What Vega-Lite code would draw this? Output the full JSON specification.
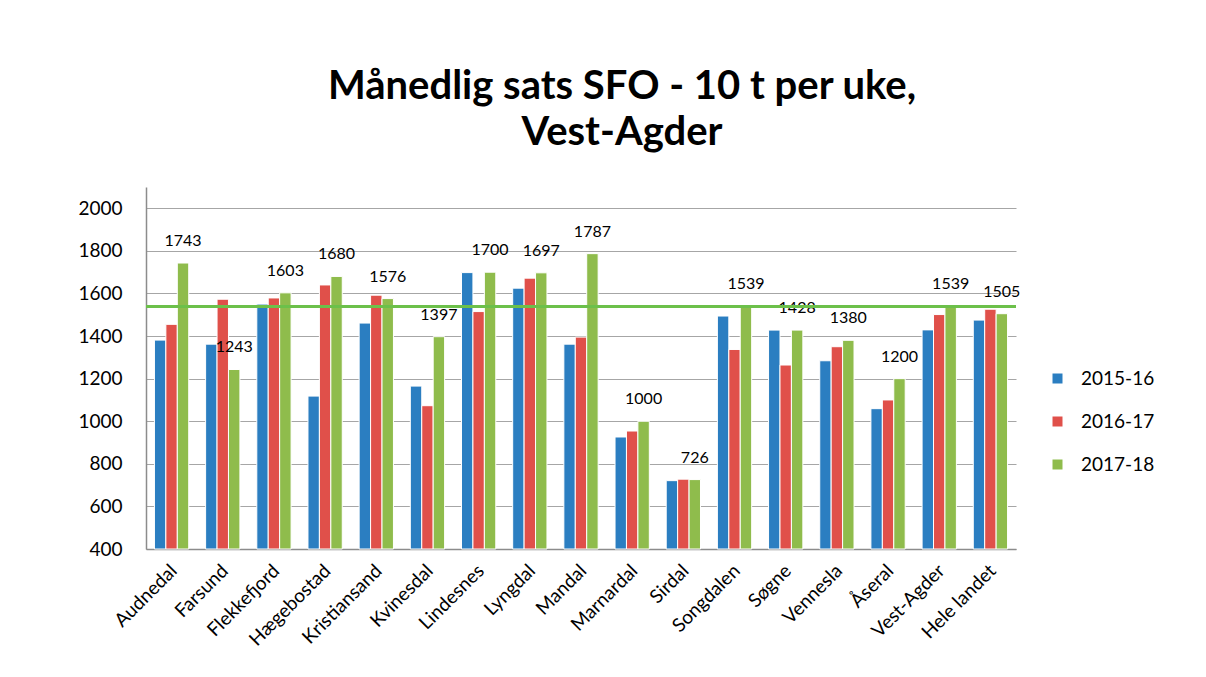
{
  "$schema": "https://vega.github.io/schema/vega-lite/v6.json",
  "width": 870,
  "height": 362,
  "autosize": {"type": "none"},
  "padding": {"left": 146, "top": 187, "right": 190, "bottom": 128},
  "background": "white",
  "config": {"view": {"stroke": null}},
  "title": {
    "text": ["Månedlig sats SFO - 10 t per uke,", "Vest-Agder"],
    "font": "Lato",
    "fontSize": 40,
    "fontWeight": "bold",
    "color": "black",
    "anchor": "middle",
    "dx": 41,
    "offset": 34,
    "lineHeight": 46
  },
  "data": {
    "values": [
      {"kommune": "Audnedal", "year": "2015-16", "value": 1381},
      {"kommune": "Audnedal", "year": "2016-17", "value": 1455},
      {"kommune": "Audnedal", "year": "2017-18", "value": 1743},
      {"kommune": "Farsund", "year": "2015-16", "value": 1362},
      {"kommune": "Farsund", "year": "2016-17", "value": 1573},
      {"kommune": "Farsund", "year": "2017-18", "value": 1243},
      {"kommune": "Flekkefjord", "year": "2015-16", "value": 1550},
      {"kommune": "Flekkefjord", "year": "2016-17", "value": 1579},
      {"kommune": "Flekkefjord", "year": "2017-18", "value": 1603},
      {"kommune": "Hægebostad", "year": "2015-16", "value": 1118},
      {"kommune": "Hægebostad", "year": "2016-17", "value": 1640},
      {"kommune": "Hægebostad", "year": "2017-18", "value": 1680},
      {"kommune": "Kristiansand", "year": "2015-16", "value": 1461},
      {"kommune": "Kristiansand", "year": "2016-17", "value": 1592},
      {"kommune": "Kristiansand", "year": "2017-18", "value": 1576},
      {"kommune": "Kvinesdal", "year": "2015-16", "value": 1165},
      {"kommune": "Kvinesdal", "year": "2016-17", "value": 1073},
      {"kommune": "Kvinesdal", "year": "2017-18", "value": 1397},
      {"kommune": "Lindesnes", "year": "2015-16", "value": 1698},
      {"kommune": "Lindesnes", "year": "2016-17", "value": 1515},
      {"kommune": "Lindesnes", "year": "2017-18", "value": 1700},
      {"kommune": "Lyngdal", "year": "2015-16", "value": 1625},
      {"kommune": "Lyngdal", "year": "2016-17", "value": 1672},
      {"kommune": "Lyngdal", "year": "2017-18", "value": 1697},
      {"kommune": "Mandal", "year": "2015-16", "value": 1362},
      {"kommune": "Mandal", "year": "2016-17", "value": 1395},
      {"kommune": "Mandal", "year": "2017-18", "value": 1787},
      {"kommune": "Marnardal", "year": "2015-16", "value": 926},
      {"kommune": "Marnardal", "year": "2016-17", "value": 954},
      {"kommune": "Marnardal", "year": "2017-18", "value": 1000},
      {"kommune": "Sirdal", "year": "2015-16", "value": 721},
      {"kommune": "Sirdal", "year": "2016-17", "value": 728},
      {"kommune": "Sirdal", "year": "2017-18", "value": 726},
      {"kommune": "Songdalen", "year": "2015-16", "value": 1494},
      {"kommune": "Songdalen", "year": "2016-17", "value": 1337},
      {"kommune": "Songdalen", "year": "2017-18", "value": 1539},
      {"kommune": "Søgne", "year": "2015-16", "value": 1428},
      {"kommune": "Søgne", "year": "2016-17", "value": 1264},
      {"kommune": "Søgne", "year": "2017-18", "value": 1428},
      {"kommune": "Vennesla", "year": "2015-16", "value": 1284},
      {"kommune": "Vennesla", "year": "2016-17", "value": 1350},
      {"kommune": "Vennesla", "year": "2017-18", "value": 1380},
      {"kommune": "Åseral", "year": "2015-16", "value": 1059},
      {"kommune": "Åseral", "year": "2016-17", "value": 1100},
      {"kommune": "Åseral", "year": "2017-18", "value": 1200},
      {"kommune": "Vest-Agder", "year": "2015-16", "value": 1429},
      {"kommune": "Vest-Agder", "year": "2016-17", "value": 1501},
      {"kommune": "Vest-Agder", "year": "2017-18", "value": 1539},
      {"kommune": "Hele landet", "year": "2015-16", "value": 1475},
      {"kommune": "Hele landet", "year": "2016-17", "value": 1526},
      {"kommune": "Hele landet", "year": "2017-18", "value": 1505}
    ]
  },
  "layer": [
    {
      "mark": {"type": "bar", "stroke": "white", "strokeWidth": 1},
      "encoding": {
        "x": {
          "field": "kommune",
          "type": "nominal",
          "sort": null,
          "scale": {"paddingInner": 0.33, "paddingOuter": 0.165},
          "axis": {
            "title": null,
            "labelAngle": -45,
            "labelAlign": "right",
            "labelBaseline": "top",
            "labelFont": "Lato",
            "labelFontSize": 19,
            "labelColor": "black",
            "labelPadding": 12,
            "labelOffset": -4,
            "ticks": false,
            "domainColor": "#8c8c8c",
            "domainWidth": 1.5
          }
        },
        "xOffset": {"field": "year", "type": "nominal", "sort": ["2015-16", "2016-17", "2017-18"]},
        "y": {
          "field": "value",
          "type": "quantitative",
          "scale": {"domain": [400, 2100], "nice": false, "zero": false},
          "axis": {
            "title": null,
            "values": [400, 600, 800, 1000, 1200, 1400, 1600, 1800, 2000],
            "format": "d",
            "labelFont": "Lato",
            "labelFontSize": 19,
            "labelColor": "black",
            "labelPadding": 24,
            "ticks": false,
            "grid": true,
            "gridColor": "#a6a6a6",
            "gridWidth": 1.2,
            "domainColor": "#8c8c8c",
            "domainWidth": 1.5
          }
        },
        "y2": {"datum": 400},
        "color": {
          "field": "year",
          "type": "nominal",
          "sort": ["2015-16", "2016-17", "2017-18"],
          "scale": {"range": ["#2b7ec1", "#e0504a", "#8fbc4c"]},
          "legend": {
            "title": null,
            "orient": "none",
            "legendX": 902,
            "legendY": 182,
            "symbolType": "square",
            "symbolSize": 100,
            "symbolStrokeWidth": 0,
            "labelFont": "Lato",
            "labelFontSize": 19,
            "labelColor": "black",
            "labelOffset": 14,
            "rowPadding": 23
          }
        }
      }
    },
    {
      "transform": [{"filter": "datum.year === '2017-18'"}],
      "mark": {"type": "text", "font": "Lato", "fontSize": 16, "color": "black", "dy": -14, "baseline": "bottom"},
      "encoding": {
        "x": {"field": "kommune", "type": "nominal", "sort": null},
        "xOffset": {"field": "year", "type": "nominal", "sort": ["2015-16", "2016-17", "2017-18"]},
        "y": {"field": "value", "type": "quantitative"},
        "text": {"field": "value", "type": "quantitative"}
      }
    },
    {
      "data": {"values": [{"avg": 1539}]},
      "mark": {"type": "rule", "color": "#6cc04a", "strokeWidth": 3},
      "encoding": {"y": {"field": "avg", "type": "quantitative"}}
    }
  ]
}
